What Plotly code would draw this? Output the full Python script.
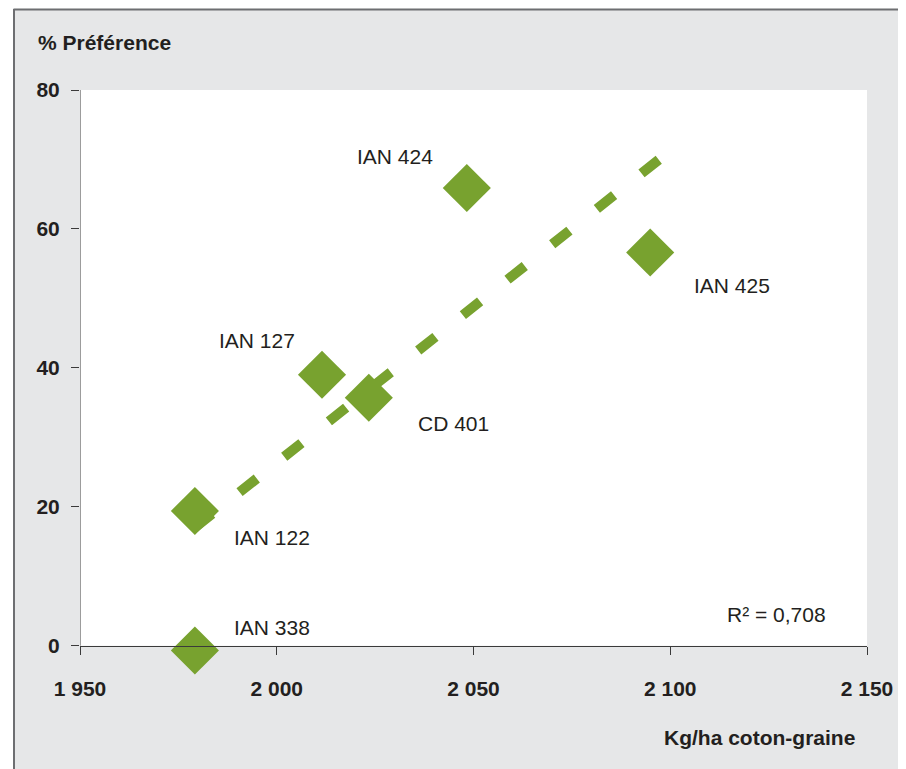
import plotly.graph_objects as go

# ---- data ----
variety_names = ["IAN 338", "IAN 122", "IAN 127", "CD 401", "IAN 424", "IAN 425"]
yield_kg_ha = [1979.2, 1979.2, 2011.5, 2023.4, 2048.3, 2094.9]
preference_pct = [-0.7, 19.4, 39.0, 35.7, 65.9, 56.6]

trend_x = [1979.2, 2097.4]
trend_y = [17.0, 70.1]
r2_text = "R² = 0,708"

x_ticks = [1950, 2000, 2050, 2100, 2150]
x_tick_labels = ["1 950", "2 000", "2 050", "2 100", "2 150"]
y_ticks = [0, 20, 40, 60, 80]
y_tick_labels = ["0", "20", "40", "60", "80"]

# label offsets (pixels) relative to each marker: (xshift, yshift, xanchor)
label_offsets = [(37, 23, "left"), (37, -27, "left"), (-25, 34, "right"),
                 (47, -26, "left"), (-32, 31, "right"), (42, -33, "left")]

GREEN = "#78a22f"
DARK = "#231f20"
AXIS = "#3a3a3a"
GRAY_BG = "#e6e7e8"
FONT = "Liberation Sans, Arial, sans-serif"

# page body has an 8px margin; work in reference pixel coords and shift
OFF = 8
W, H = 906 - OFF, 769 - OFF
REF_LEFT, REF_RIGHT, REF_TOP, REF_ZERO = 80, 867, 90, 645.7
PX_PER_UNIT = (REF_ZERO - REF_TOP) / 80.0
REF_BOTTOM = 663.0                      # plot area extended a little below y=0
Y_MIN = -(REF_BOTTOM - REF_ZERO) / PX_PER_UNIT

L = REF_LEFT - OFF
R = W - (REF_RIGHT - OFF)
T = REF_TOP - OFF
B = H - (REF_BOTTOM - OFF)
PW, PH = W - L - R, H - T - B


def px_x(px):
    return (px - OFF - L) / PW


def px_y(py):
    return (H - B - (py - OFF)) / PH


fig = go.Figure()

fig.add_trace(go.Scatter(
    x=trend_x, y=trend_y, mode="lines",
    line=dict(color=GREEN, width=10, dash="22px,35px"),
    hoverinfo="skip", showlegend=False, cliponaxis=False,
))

fig.add_trace(go.Scatter(
    x=yield_kg_ha, y=preference_pct, mode="markers",
    marker=dict(symbol="diamond", size=37, color=GREEN, line=dict(width=0)),
    showlegend=False, cliponaxis=False,
))

annotations = []
for name, xv, yv, (dx, dy, anc) in zip(variety_names, yield_kg_ha, preference_pct, label_offsets):
    annotations.append(dict(
        x=xv, y=yv, xref="x", yref="y", text=name, showarrow=False,
        xanchor=anc, yanchor="middle", xshift=dx, yshift=dy,
        font=dict(family=FONT, size=21, color=DARK),
    ))

annotations.append(dict(
    x=px_x(828), y=px_y(614), xref="paper", yref="paper", text=r2_text,
    showarrow=False, xanchor="right", yanchor="middle",
    font=dict(family=FONT, size=21, color=DARK),
))
annotations.append(dict(
    x=px_x(36), y=px_y(43), xref="paper", yref="paper", text="<b>% Préférence</b>",
    showarrow=False, xanchor="left", yanchor="middle",
    font=dict(family=FONT, size=21, color=DARK),
))
annotations.append(dict(
    x=px_x(857), y=px_y(737), xref="paper", yref="paper", text="<b>Kg/ha coton-graine</b>",
    showarrow=False, xanchor="right", yanchor="middle",
    font=dict(family=FONT, size=21, color=DARK),
))

shapes = [
    # white plotting panel (0..80)
    dict(type="rect", xref="x", yref="y", x0=1950, x1=2150, y0=0, y1=80,
         fillcolor="white", line=dict(width=0), layer="below"),
    # y axis line
    dict(type="line", xref="x", yref="y", x0=1950, x1=1950, y0=0, y1=80,
         line=dict(color=AXIS, width=1), layer="below"),
    # white strips outside the framed panel
    dict(type="rect", xref="paper", yref="paper", x0=px_x(-5), x1=px_x(920),
         y0=px_y(-5), y1=px_y(9), fillcolor="white", line=dict(width=0), layer="above"),
    dict(type="rect", xref="paper", yref="paper", x0=px_x(-5), x1=px_x(13.5),
         y0=px_y(790), y1=px_y(-5), fillcolor="white", line=dict(width=0), layer="above"),
    # frame lines
    dict(type="line", xref="paper", yref="paper", x0=px_x(13.5), x1=px_x(920),
         y0=px_y(9.5), y1=px_y(9.5), line=dict(color="#6d6e71", width=2), layer="above"),
    dict(type="line", xref="paper", yref="paper", x0=px_x(14), x1=px_x(14),
         y0=px_y(9), y1=px_y(790), line=dict(color="#6d6e71", width=2), layer="above"),
]

fig.update_layout(
    width=W, height=H,
    margin=dict(l=L, r=R, t=T, b=B, pad=0),
    paper_bgcolor=GRAY_BG, plot_bgcolor=GRAY_BG,
    font=dict(family=FONT, size=21, color=DARK),
    annotations=annotations, shapes=shapes,
    xaxis=dict(
        range=[1950, 2150], tickvals=x_ticks, ticktext=x_tick_labels,
        anchor="free", position=px_y(REF_ZERO),
        showgrid=False, zeroline=False, showline=True, linecolor=AXIS, linewidth=1,
        ticks="outside", ticklen=8, tickcolor=AXIS, tickwidth=1,
        tickfont=dict(family=FONT, size=21, color=DARK, weight="bold"),
        ticklabelstandoff=16, fixedrange=True,
    ),
    yaxis=dict(
        range=[Y_MIN, 80], tickvals=y_ticks, ticktext=y_tick_labels,
        showgrid=False, zeroline=False, showline=False,
        ticks="outside", ticklen=8, tickcolor=AXIS, tickwidth=1,
        tickfont=dict(family=FONT, size=21, color=DARK, weight="bold"),
        ticklabelstandoff=7, fixedrange=True,
    ),
)

fig.write_html("out.html")
